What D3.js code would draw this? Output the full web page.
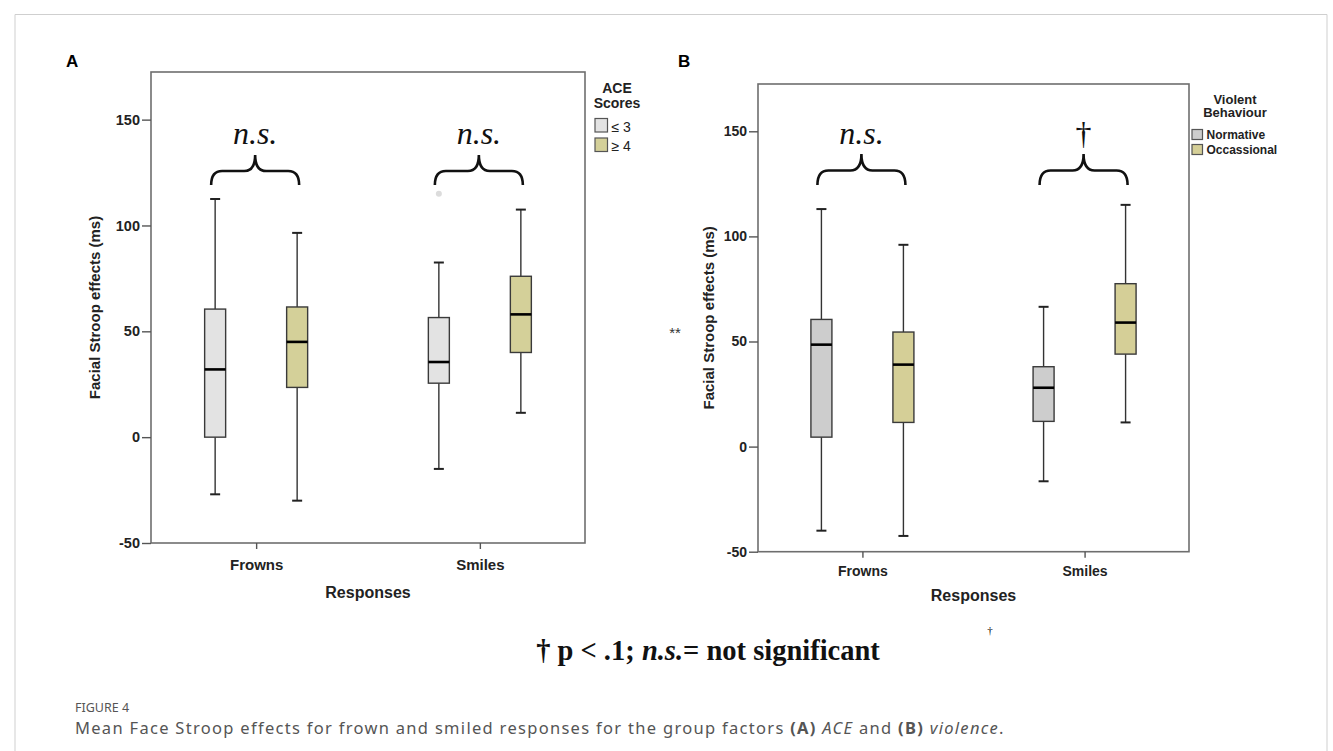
<!DOCTYPE html>
<html>
<head>
<meta charset="utf-8">
<script src="https://cdn.jsdelivr.net/npm/d3@7/dist/d3.min.js"></script>
<style>
body { margin: 0; background: #fff; }
</style>
</head>
<body>
<svg id="fig" width="1333" height="751" font-family="Liberation Sans, Arial, sans-serif"></svg>
<script>
var responses = ["Frowns", "Smiles"];
var yTicks = [-50, 0, 50, 100, 150];
var yDomain = [-50, 172.5];

// panel A : ACE scores
var aceGroups = ["≤ 3", "≥ 4"];
// each box: [lower whisker, q1, median, q3, upper whisker]
var aceFrowns = [[-27, 0, 32, 60.5, 112.5], [-30, 23.5, 45, 61.5, 96.5]];
var aceSmiles = [[-15, 25.5, 35.5, 56.5, 82.5], [11.5, 40, 58, 76, 107.5]];
var aceOutliers = [{response: "Smiles", group: "≤ 3", value: 115}];
var aceSig = ["n.s.", "n.s."];

// panel B : violent behaviour
var violGroups = ["Normative", "Occassional"];
var violFrowns = [[-40, 4.5, 48.5, 60.5, 113], [-42.5, 11.5, 39, 54.5, 96]];
var violSmiles = [[-16.5, 12, 28, 38, 66.5], [11.5, 44, 59, 77.5, 115]];
var violOutliers = [];
var violSig = ["n.s.", "†"];

var serif = "Liberation Serif, Times New Roman, serif";
var svg = d3.select("#fig");

// figure border
svg.append("path")
  .attr("d", "M15,751V14.5H1327V751")
  .attr("fill", "none")
  .attr("stroke", "#cfcfcf")
  .attr("stroke-width", 1);

var panels = [
  {
    label: "A", labelX: 66, left: 151, top: 72, right: 585, bottom: 543,
    groups: aceGroups, values: [aceFrowns, aceSmiles], outliers: aceOutliers, sig: aceSig,
    colors: ["#e3e3e3", "#d4d099"],
    yLabelX: 100, tickFont: 14.5, xFont: 15, xPad: 10, titleY: 598,
    braceTip: 185, bracePeak: 155, sigY: 144,
    legendTitle: ["ACE", "Scores"], legendTitleX: 617, legendTitleY: [93, 108], legendTitleFont: 14,
    legendX: 595, legendY: [118.5, 138], legendW: 12.5, legendH: 13.5, legendFont: 14, legendBold: false
  },
  {
    label: "B", labelX: 678, left: 758, top: 84, right: 1189, bottom: 551.7,
    groups: violGroups, values: [violFrowns, violSmiles], outliers: violOutliers, sig: violSig,
    colors: ["#cdcdcd", "#d5cf97"],
    yLabelX: 714, tickFont: 14, xFont: 14, xPad: 8, titleY: 601,
    braceTip: 185, bracePeak: 154, sigY: 144,
    legendTitle: ["Violent", "Behaviour"], legendTitleX: 1235, legendTitleY: [104, 117], legendTitleFont: 13,
    legendX: 1192, legendY: [129.5, 144.5], legendW: 10.5, legendH: 10, legendFont: 12, legendBold: true
  }
];

function bracePath(x1, x2, yTip, yPeak) {
  var xm = (x1 + x2) / 2, ym = (yTip + yPeak) / 2 + 1, r = 11;
  return "M" + x1 + "," + yTip +
    "Q" + x1 + "," + ym + " " + (x1 + r) + "," + ym +
    "L" + (xm - r) + "," + ym +
    "Q" + xm + "," + ym + " " + xm + "," + yPeak +
    "Q" + xm + "," + ym + " " + (xm + r) + "," + ym +
    "L" + (x2 - r) + "," + ym +
    "Q" + x2 + "," + ym + " " + x2 + "," + yTip;
}

panels.forEach(function(p) {
  var width = p.right - p.left, height = p.bottom - p.top;

  var x0 = d3.scalePoint().domain(responses).range([0, width]).padding(0.47);
  var x1 = d3.scalePoint().domain(p.groups).range([-41, 41]);
  var y = d3.scaleLinear().domain(yDomain).range([height, 0]);
  var color = d3.scaleOrdinal().domain(p.groups).range(p.colors);

  var boxes = [];
  responses.forEach(function(r, i) {
    p.groups.forEach(function(g, j) {
      var v = p.values[i][j];
      boxes.push({response: r, group: g, lo: v[0], q1: v[1], med: v[2], q3: v[3], hi: v[4]});
    });
  });

  svg.append("text")
    .attr("x", p.labelX).attr("y", 67)
    .attr("font-size", 17).attr("font-weight", "bold")
    .text(p.label);

  var g = svg.append("g").attr("transform", "translate(" + p.left + "," + p.top + ")");

  // frame
  g.append("rect")
    .attr("width", width).attr("height", height)
    .attr("fill", "none").attr("stroke", "#6e6e6e").attr("stroke-width", 1.6);

  // left axis
  var yAxis = g.append("g")
    .call(d3.axisLeft(y).tickValues(yTicks).tickSize(9).tickPadding(2).tickFormat(function(d) { return String(d); }));
  yAxis.select(".domain").remove();
  yAxis.selectAll("line").attr("stroke", "#555").attr("stroke-width", 1.4);
  yAxis.selectAll("text")
    .attr("font-family", "Liberation Sans, Arial, sans-serif")
    .attr("font-size", p.tickFont).attr("font-weight", "bold").attr("fill", "#222");

  // bottom axis
  var xAxis = g.append("g")
    .attr("transform", "translate(0," + height + ")")
    .call(d3.axisBottom(x0).tickSize(6).tickPadding(p.xPad));
  xAxis.select(".domain").remove();
  xAxis.selectAll("line").attr("stroke", "#555").attr("stroke-width", 1.4);
  xAxis.selectAll("text")
    .attr("font-family", "Liberation Sans, Arial, sans-serif")
    .attr("font-size", p.xFont).attr("font-weight", "bold").attr("fill", "#222");

  svg.append("text")
    .attr("x", p.left + width / 2).attr("y", p.titleY)
    .attr("text-anchor", "middle").attr("font-size", 16).attr("font-weight", "bold").attr("fill", "#222")
    .text("Responses");

  svg.append("text")
    .attr("transform", "translate(" + p.yLabelX + "," + (p.top + height / 2) + ") rotate(-90)")
    .attr("text-anchor", "middle").attr("font-size", 15).attr("font-weight", "bold").attr("fill", "#222")
    .text("Facial Stroop effects (ms)");

  // boxes
  var bw = 21, cap = 10;
  var box = g.selectAll(".box").data(boxes).enter().append("g")
    .attr("class", "box")
    .attr("transform", function(d) { return "translate(" + (x0(d.response) + x1(d.group)) + ",0)"; });

  box.append("line")
    .attr("y1", function(d) { return y(d.hi); }).attr("y2", function(d) { return y(d.q3); })
    .attr("stroke", "#333").attr("stroke-width", 1.4);
  box.append("line")
    .attr("y1", function(d) { return y(d.q1); }).attr("y2", function(d) { return y(d.lo); })
    .attr("stroke", "#333").attr("stroke-width", 1.4);
  box.append("line")
    .attr("x1", -cap / 2).attr("x2", cap / 2)
    .attr("y1", function(d) { return y(d.hi); }).attr("y2", function(d) { return y(d.hi); })
    .attr("stroke", "#222").attr("stroke-width", 2);
  box.append("line")
    .attr("x1", -cap / 2).attr("x2", cap / 2)
    .attr("y1", function(d) { return y(d.lo); }).attr("y2", function(d) { return y(d.lo); })
    .attr("stroke", "#222").attr("stroke-width", 2);
  box.append("rect")
    .attr("x", -bw / 2).attr("width", bw)
    .attr("y", function(d) { return y(d.q3); })
    .attr("height", function(d) { return y(d.q1) - y(d.q3); })
    .attr("fill", function(d) { return color(d.group); })
    .attr("stroke", "#3a3a3a").attr("stroke-width", 1.4);
  box.append("line")
    .attr("x1", -bw / 2).attr("x2", bw / 2)
    .attr("y1", function(d) { return y(d.med); }).attr("y2", function(d) { return y(d.med); })
    .attr("stroke", "#000").attr("stroke-width", 2.6);

  g.selectAll(".outlier").data(p.outliers).enter().append("circle")
    .attr("class", "outlier")
    .attr("cx", function(d) { return x0(d.response) + x1(d.group); })
    .attr("cy", function(d) { return y(d.value); })
    .attr("r", 3).attr("fill", "#dcdcdc");

  // significance braces
  responses.forEach(function(r, i) {
    var xl = p.left + x0(r) + x1(p.groups[0]) - 4;
    var xr = p.left + x0(r) + x1(p.groups[1]) + 2;
    svg.append("path")
      .attr("d", bracePath(xl, xr, p.braceTip, p.bracePeak))
      .attr("fill", "none").attr("stroke", "#111").attr("stroke-width", 2.6);
    svg.append("text")
      .attr("x", (xl + xr) / 2).attr("y", p.sigY)
      .attr("text-anchor", "middle")
      .attr("font-family", serif)
      .attr("font-style", p.sig[i] == "n.s." ? "italic" : "normal")
      .attr("font-size", 32).attr("fill", "#111")
      .text(p.sig[i]);
  });

  // legend
  p.legendTitle.forEach(function(t, i) {
    svg.append("text")
      .attr("x", p.legendTitleX).attr("y", p.legendTitleY[i])
      .attr("text-anchor", "middle").attr("font-size", p.legendTitleFont).attr("font-weight", "bold").attr("fill", "#222")
      .text(t);
  });
  p.groups.forEach(function(gr, i) {
    svg.append("rect")
      .attr("x", p.legendX).attr("y", p.legendY[i])
      .attr("width", p.legendW).attr("height", p.legendH)
      .attr("fill", color(gr)).attr("stroke", "#555").attr("stroke-width", 1.2);
    svg.append("text")
      .attr("x", p.legendX + p.legendW + 4).attr("y", p.legendY[i] + p.legendH - 0.5)
      .attr("font-size", p.legendFont).attr("font-weight", p.legendBold ? "bold" : "normal").attr("fill", "#222")
      .text(gr);
  });
});

svg.append("text")
  .attr("x", 675).attr("y", 338).attr("text-anchor", "middle")
  .attr("font-size", 15).attr("fill", "#333")
  .text("**");

svg.append("text")
  .attr("x", 990).attr("y", 634).attr("text-anchor", "middle")
  .attr("font-family", serif)
  .attr("font-size", 11).attr("fill", "#000")
  .text("†");

var note = svg.append("text")
  .attr("x", 708).attr("y", 660).attr("text-anchor", "middle")
  .attr("font-family", serif)
  .attr("font-size", 28.5).attr("font-weight", "bold").attr("fill", "#111");
note.append("tspan").text("† p < .1; ");
note.append("tspan").attr("font-style", "italic").text("n.s.");
note.append("tspan").text("= not significant");

svg.append("text")
  .attr("x", 75).attr("y", 712)
  .attr("font-family", "Noto Sans, Open Sans, sans-serif")
  .attr("font-size", 12.5).attr("fill", "#555")
  .text("FIGURE 4");

var cap = svg.append("text")
  .attr("x", 75).attr("y", 734)
  .attr("font-family", "Noto Sans, Open Sans, sans-serif")
  .attr("font-size", 16.5).attr("letter-spacing", 1.3).attr("fill", "#555");
cap.append("tspan").text("Mean Face Stroop effects for frown and smiled responses for the group factors ");
cap.append("tspan").attr("font-weight", "bold").text("(A)");
cap.append("tspan").attr("font-style", "italic").text(" ACE");
cap.append("tspan").text(" and ");
cap.append("tspan").attr("font-weight", "bold").text("(B)");
cap.append("tspan").attr("font-style", "italic").text(" violence");
cap.append("tspan").text(".");
</script>
</body>
</html>
